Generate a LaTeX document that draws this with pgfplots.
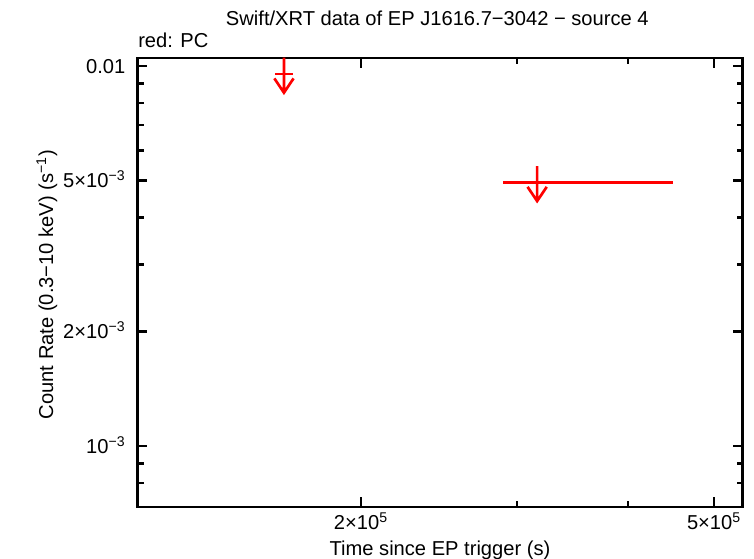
\documentclass[border=0pt]{standalone}
\usepackage{fontspec}
\setmainfont{Liberation Sans}
\usepackage{pgfplots}
\pgfplotsset{compat=1.18}

% upper limit symbol: stem through the value, arrow head below
\pgfdeclareplotmark{ulim}{%
  \pgfpathmoveto{\pgfqpoint{0pt}{12.2pt}}%
  \pgfpathlineto{\pgfqpoint{0pt}{-14pt}}%
  \pgfpathmoveto{\pgfqpoint{-7.2pt}{-3.3pt}}%
  \pgfpathlineto{\pgfqpoint{0pt}{-14pt}}%
  \pgfpathlineto{\pgfqpoint{7.2pt}{-3.3pt}}%
  \pgfusepathqstroke
}

\begin{document}
\fontsize{15.1pt}{17.5pt}\selectfont
\begin{tikzpicture}
\useasboundingbox (0,0) rectangle (565.5pt,418.5pt);
\begin{axis}[
  at={(103.1pt,38.25pt)}, anchor=south west,
  scale only axis, width=454pt, height=336.75pt,
  xmode=log, ymode=log,
  xmin=1.12e5, xmax=5.39e5,
  ymin=6.91e-4, ymax=0.0105,
  xtick={2e5,5e5},
  xticklabels={2×10\textsuperscript{5}, 5×10\textsuperscript{5}},
  minor xtick={3e5,4e5},
  ytick={1e-3,2e-3,5e-3,1e-2},
  yticklabels={10\textsuperscript{−3}, 2×10\textsuperscript{−3}, 5×10\textsuperscript{−3}, 0.01},
  minor ytick={8e-4,9e-4,3e-3,4e-3,6e-3,7e-3,8e-3,9e-3},
  tick align=inside,
  xtick pos=both, ytick pos=both,
  xticklabel pos=lower, yticklabel pos=left,
  major tick length=7.5pt, minor tick length=4.5pt,
  every tick/.style={black, line width=2pt},
  axis line style={line width=2.1pt},
  xticklabel style={anchor=base, inner sep=0pt, yshift=-16.5pt},
  yticklabel style={anchor=base east, inner sep=0pt, xshift=-9pt, yshift=-5.3pt},
  ticklabel style={font=\fontsize{15.1pt}{17.5pt}\selectfont},
]
\addplot[red, only marks, mark=ulim,
  mark options={line width=2pt, line cap=butt, line join=miter},
  error bars/.cd, x dir=both, x explicit, error mark=none,
  error bar style={line width=2pt, red}]
  coordinates {
    (1.638e5, 9.53e-3) -= (3.8e3,0) += (3.7e3,0)
    (3.16e5, 4.94e-3) -= (2.71e4,0) += (1.34e5,0)
  };
\end{axis}
\node[anchor=base] at (328pt,399pt) {Swift/XRT data of EP J1616.7−3042 − source 4};
\node[anchor=base west, inner sep=0pt] at (103.5pt,382.5pt) {red: PC};
\node[anchor=base, rotate=90] at (39.75pt,205pt) {Count Rate (0.3−10 keV) (s\textsuperscript{−1})};
\node[anchor=base, inner sep=0pt] at (330pt,1.9pt) {Time since EP trigger (s)};
\end{tikzpicture}
\end{document}
